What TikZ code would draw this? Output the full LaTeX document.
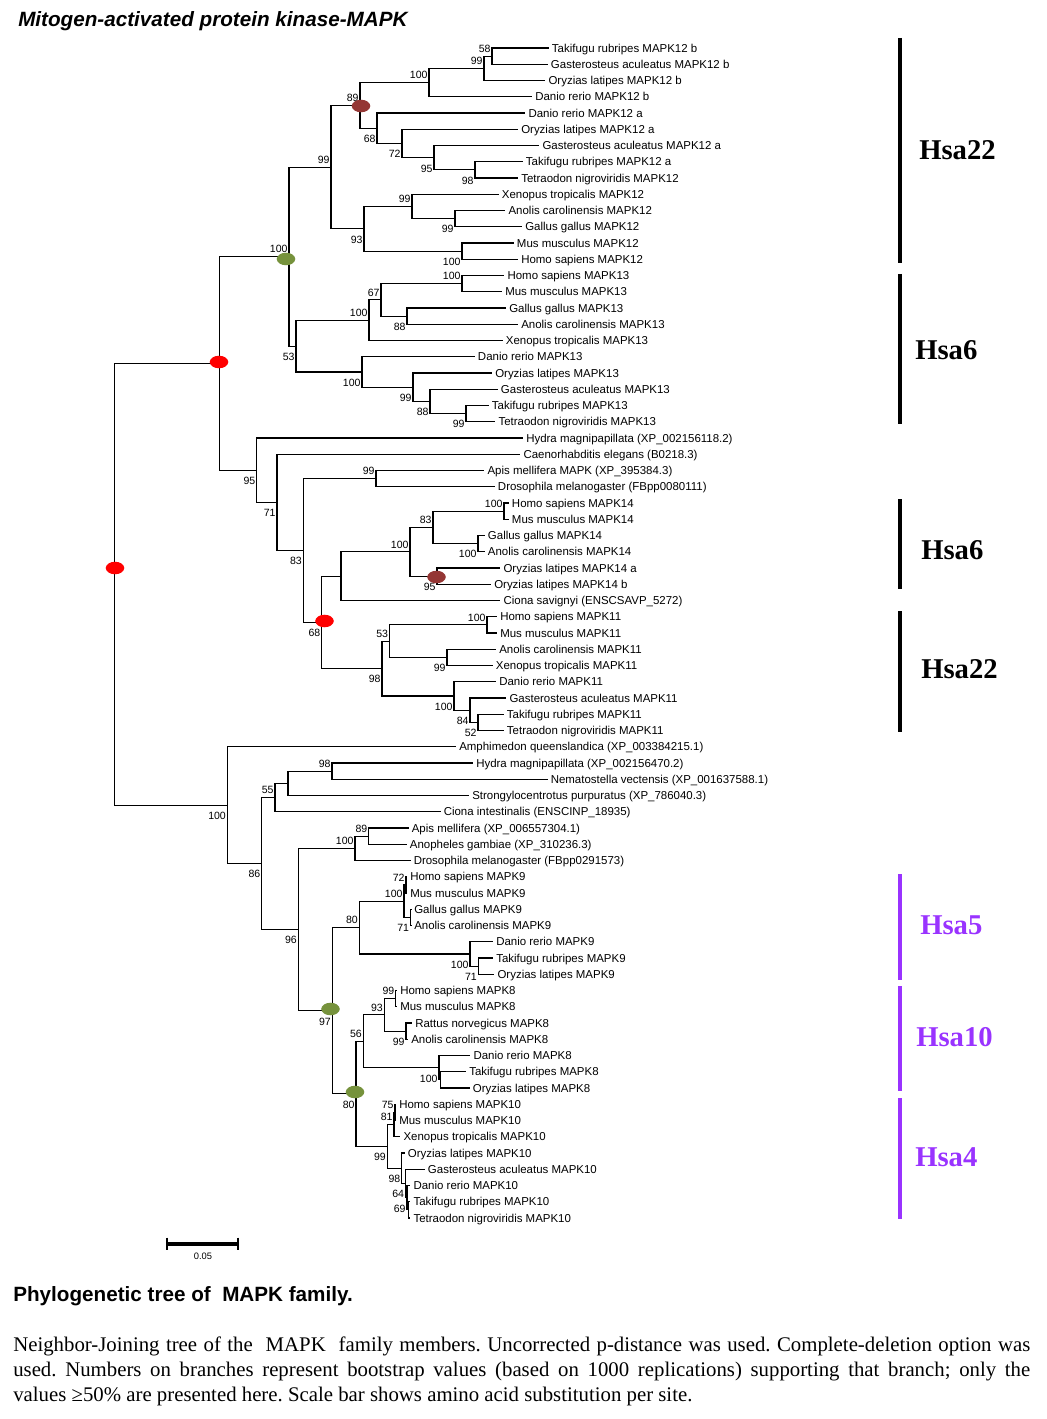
\documentclass[tikz,border=0pt]{standalone}
\usepackage{fontspec}
\setmainfont{Liberation Serif}
\newfontfamily\arial{Liberation Sans}
\usetikzlibrary{calc,shapes.geometric}
\definecolor{dred}{RGB}{255,0,0}
\definecolor{dgreen}{HTML}{76923C}
\definecolor{dbrown}{HTML}{943634}
\definecolor{hpurple}{RGB}{153,51,255}
\frenchspacing
\tikzset{
  tree/.style={line width=0.85pt, draw=black},
  leaf/.style={anchor=west, inner xsep=2.25pt, inner ysep=0pt, text height=6.2pt, text depth=0pt, font=\arial\fontsize{8.6}{10}\selectfont},
  bs/.style={anchor=east, inner sep=0pt, text height=5.7pt, text depth=0pt, font=\arial\fontsize{7.9}{9}\selectfont},
  bsup/.style={bs, xshift=-0.9pt, yshift=5.6pt},
  bslo/.style={bs, xshift=-0.9pt, yshift=-7.9pt},
  dotnode/.style={ellipse, minimum width=13.9pt, minimum height=9.4pt, inner sep=0pt, draw=none},
  hbar/.style={line width=3pt},
  hsa/.style={anchor=base west, inner sep=0pt, font=\bfseries\fontsize{21.5}{24}\selectfont}
}
\newcommand\mkleaf[3]{\node[leaf] (L#1) at ({#2-3},{48+(#1-1)*16.25}) {#3};}
\newcommand\tnd[4]{\coordinate (tmp) at ($(#3)!.5!(#4)$);\coordinate (#1) at (#2,0 |- tmp);\draw[tree] (#1) |- (#3);\draw[tree] (#1) |- (#4);}
\newcommand\bsU[2]{\node[bsup] (b#1) at (#1) {#2};}
\newcommand\bsL[2]{\node[bslo] (b#1) at (#1) {#2};}
\begin{document}
\begin{tikzpicture}[x=0.75pt,y=-0.75pt]
\useasboundingbox (0,0) rectangle (1046,1419);
% title
\node[anchor=base west, inner sep=0pt, font=\arial\bfseries\itshape\fontsize{15.5}{18}\selectfont] (title) at (18,27) {Mitogen-activated protein kinase-MAPK};
% leaves
\mkleaf{1}{551.7}{Takifugu rubripes MAPK12 b}
\mkleaf{2}{550.7}{Gasterosteus aculeatus MAPK12 b}
\mkleaf{3}{548.3}{Oryzias latipes MAPK12 b}
\mkleaf{4}{535}{Danio rerio MAPK12 b}
\mkleaf{5}{528.3}{Danio rerio MAPK12 a}
\mkleaf{6}{521}{Oryzias latipes MAPK12 a}
\mkleaf{7}{542.3}{Gasterosteus aculeatus MAPK12 a}
\mkleaf{8}{525.7}{Takifugu rubripes MAPK12 a}
\mkleaf{9}{521}{Tetraodon nigroviridis MAPK12}
\mkleaf{10}{501.7}{Xenopus tropicalis MAPK12}
\mkleaf{11}{508.3}{Anolis carolinensis MAPK12}
\mkleaf{12}{525}{Gallus gallus MAPK12}
\mkleaf{13}{516.7}{Mus musculus MAPK12}
\mkleaf{14}{521}{Homo sapiens MAPK12}
\mkleaf{15}{507.3}{Homo sapiens MAPK13}
\mkleaf{16}{505}{Mus musculus MAPK13}
\mkleaf{17}{509}{Gallus gallus MAPK13}
\mkleaf{18}{521}{Anolis carolinensis MAPK13}
\mkleaf{19}{505.7}{Xenopus tropicalis MAPK13}
\mkleaf{20}{477.7}{Danio rerio MAPK13}
\mkleaf{21}{495}{Oryzias latipes MAPK13}
\mkleaf{22}{500.7}{Gasterosteus aculeatus MAPK13}
\mkleaf{23}{491.7}{Takifugu rubripes MAPK13}
\mkleaf{24}{498.3}{Tetraodon nigroviridis MAPK13}
\mkleaf{25}{526}{Hydra magnipapillata (XP\_002156118.2)}
\mkleaf{26}{523.3}{Caenorhabditis elegans (B0218.3)}
\mkleaf{27}{487.3}{Apis mellifera MAPK (XP\_395384.3)}
\mkleaf{28}{497.7}{Drosophila melanogaster (FBpp0080111)}
\mkleaf{29}{511.7}{Homo sapiens MAPK14}
\mkleaf{30}{511.7}{Mus musculus MAPK14}
\mkleaf{31}{487.7}{Gallus gallus MAPK14}
\mkleaf{32}{487.7}{Anolis carolinensis MAPK14}
\mkleaf{33}{503.3}{Oryzias latipes MAPK14 a}
\mkleaf{34}{494}{Oryzias latipes MAPK14 b}
\mkleaf{35}{503.3}{Ciona savignyi (ENSCSAVP\_5272)}
\mkleaf{36}{500}{Homo sapiens MAPK11}
\mkleaf{37}{500}{Mus musculus MAPK11}
\mkleaf{38}{499}{Anolis carolinensis MAPK11}
\mkleaf{39}{495.7}{Xenopus tropicalis MAPK11}
\mkleaf{40}{499}{Danio rerio MAPK11}
\mkleaf{41}{509.3}{Gasterosteus aculeatus MAPK11}
\mkleaf{42}{506.7}{Takifugu rubripes MAPK11}
\mkleaf{43}{506.7}{Tetraodon nigroviridis MAPK11}
\mkleaf{44}{459}{Amphimedon queenslandica (XP\_003384215.1)}
\mkleaf{45}{476}{Hydra magnipapillata (XP\_002156470.2)}
\mkleaf{46}{550.5}{Nematostella vectensis (XP\_001637588.1)}
\mkleaf{47}{472}{Strongylocentrotus purpuratus (XP\_786040.3)}
\mkleaf{48}{443.5}{Ciona intestinalis (ENSCINP\_18935)}
\mkleaf{49}{411.5}{Apis mellifera (XP\_006557304.1)}
\mkleaf{50}{409.6}{Anopheles gambiae (XP\_310236.3)}
\mkleaf{51}{413.5}{Drosophila melanogaster (FBpp0291573)}
\mkleaf{52}{410}{Homo sapiens MAPK9}
\mkleaf{53}{410}{Mus musculus MAPK9}
\mkleaf{54}{414}{Gallus gallus MAPK9}
\mkleaf{55}{414}{Anolis carolinensis MAPK9}
\mkleaf{56}{496}{Danio rerio MAPK9}
\mkleaf{57}{496}{Takifugu rubripes MAPK9}
\mkleaf{58}{497.3}{Oryzias latipes MAPK9}
\mkleaf{59}{400}{Homo sapiens MAPK8}
\mkleaf{60}{400}{Mus musculus MAPK8}
\mkleaf{61}{415}{Rattus norvegicus MAPK8}
\mkleaf{62}{411}{Anolis carolinensis MAPK8}
\mkleaf{63}{473.3}{Danio rerio MAPK8}
\mkleaf{64}{469}{Takifugu rubripes MAPK8}
\mkleaf{65}{472.7}{Oryzias latipes MAPK8}
\mkleaf{66}{399}{Homo sapiens MAPK10}
\mkleaf{67}{399}{Mus musculus MAPK10}
\mkleaf{68}{403.3}{Xenopus tropicalis MAPK10}
\mkleaf{69}{407.7}{Oryzias latipes MAPK10}
\mkleaf{70}{427.7}{Gasterosteus aculeatus MAPK10}
\mkleaf{71}{413.3}{Danio rerio MAPK10}
\mkleaf{72}{413.3}{Takifugu rubripes MAPK10}
\mkleaf{73}{413.3}{Tetraodon nigroviridis MAPK10}
% MAPK12
\tnd{n58}{492}{L1.west}{L2.west}
\tnd{n99a}{484}{n58}{L3.west}
\tnd{n100a}{429}{n99a}{L4.west}
\tnd{n98a}{475}{L8.west}{L9.west}
\tnd{n95a}{434}{L7.west}{n98a}
\tnd{n72a}{402}{L6.west}{n95a}
\tnd{n68a}{377}{L5.west}{n72a}
\tnd{n89a}{360}{n100a}{n68a}
\tnd{n99c}{455}{L11.west}{L12.west}
\tnd{n99b}{412}{L10.west}{n99c}
\tnd{n100b}{462}{L13.west}{L14.west}
\tnd{n93a}{364}{n99b}{n100b}
\tnd{n99d}{331}{n89a}{n93a}
% MAPK13
\tnd{n100c}{462}{L15.west}{L16.west}
\tnd{n88a}{407}{L17.west}{L18.west}
\tnd{n67}{381}{n100c}{n88a}
\tnd{n100d}{369}{n67}{L19.west}
\tnd{n99f}{466}{L23.west}{L24.west}
\tnd{n88b}{430}{L22.west}{n99f}
\tnd{n99e}{413}{L21.west}{n88b}
\tnd{n100e}{362}{L20.west}{n99e}
\tnd{n53a}{296}{n100d}{n100e}
\tnd{nG1}{289}{n99d}{n53a}
% MAPK14 / MAPK11 and others
\tnd{n99g}{376}{L27.west}{L28.west}
\tnd{n100h}{504}{L29.west}{L30.west}
\tnd{n100i}{478}{L31.west}{L32.west}
\tnd{n83b}{433}{n100h}{n100i}
\tnd{n95b}{437}{L33.west}{L34.west}
\tnd{n100j}{410}{n83b}{n95b}
\tnd{n100g}{341}{n100j}{L35.west}
\tnd{n100k}{487}{L36.west}{L37.west}
\tnd{n99h}{447}{L38.west}{L39.west}
\tnd{n53b}{389.5}{n100k}{n99h}
\tnd{n52}{478}{L42.west}{L43.west}
\tnd{n84}{470}{L41.west}{n52}
\tnd{n100l}{454}{L40.west}{n84}
\tnd{n98b}{382}{n53b}{n100l}
\tnd{n68r}{321.7}{n100g}{n98b}
\tnd{n83a}{303.3}{n99g}{n68r}
\tnd{n71a}{277}{L26.west}{n83a}
\tnd{n95c}{256.7}{L25.west}{n71a}
\tnd{nR1}{219.3}{nG1}{n95c}
% lower clade
\tnd{n98c}{332}{L45.west}{L46.west}
\tnd{nX}{288}{n98c}{L47.west}
\tnd{n55}{275}{nX}{L48.west}
\tnd{n89b}{368.7}{L49.west}{L50.west}
\tnd{n100n}{355}{n89b}{L51.west}
\tnd{n72b}{406}{L52.west}{L53.west}
\tnd{n71b}{410.5}{L54.west}{L55.west}
\tnd{n100o}{404}{n72b}{n71b}
\tnd{n71c}{478.3}{L57.west}{L58.west}
\tnd{n100p}{470}{L56.west}{n71c}
\tnd{n80a}{359.3}{n100o}{n100p}
\tnd{n99i}{395.7}{L59.west}{L60.west}
\tnd{n99j}{406}{L61.west}{L62.west}
\tnd{n93b}{384.3}{n99i}{n99j}
\tnd{nTO}{440.5}{L64.west}{L65.west}
\tnd{n100q}{439}{L63.west}{nTO}
\tnd{n56}{363.3}{n93b}{n100q}
\tnd{n75}{395}{L66.west}{L67.west}
\tnd{n81}{394}{n75}{L68.west}
\tnd{nE}{408.5}{L72.west}{L73.west}
\tnd{nD}{407}{L71.west}{nE}
\tnd{nC}{405.5}{L70.west}{nD}
\tnd{n98d}{401.7}{L69.west}{nC}
\tnd{n99k}{387.3}{n81}{n98d}
\tnd{nG3}{356}{n56}{n99k}
\tnd{nG2}{332.3}{n80a}{nG3}
\tnd{nY}{298.3}{n100n}{nG2}
\tnd{n86}{261.7}{n55}{nY}
\tnd{n100m}{227.3}{L44.west}{n86}
\tnd{root}{114.5}{nR1}{n100m}
% bootstrap values
\bsU{n58}{58} \bsU{n99a}{99} \bsU{n100a}{100} \bsL{n98a}{98} \bsL{n95a}{95}
\bsL{n72a}{72} \bsL{n68a}{68} \bsU{n89a}{89} \bsL{n99c}{99} \bsU{n99b}{99}
\bsL{n100b}{100} \bsL{n93a}{93} \bsU{n99d}{99}
\bsU{n100c}{100} \bsL{n88a}{88} \bsU{n67}{67} \bsU{n100d}{100} \bsL{n99f}{99}
\bsL{n88b}{88} \bsL{n99e}{99} \bsL{n100e}{100} \bsL{n53a}{53} \bsU{nG1}{100}
\bsU{n99g}{99} \bsU{n100h}{100} \bsL{n100i}{100} \bsU{n83b}{83} \bsL{n95b}{95}
\bsU{n100j}{100} \bsU{n100k}{100} \bsL{n99h}{99} \bsU{n53b}{53} \bsL{n52}{52}
\bsL{n84}{84} \bsL{n100l}{100} \bsL{n98b}{98} \bsL{n68r}{68} \bsL{n83a}{83}
\bsL{n71a}{71} \bsL{n95c}{95}
\bsU{n98c}{98} \bsU{n55}{55} \bsU{n89b}{89} \bsU{n100n}{100} \bsU{n72b}{72}
\bsL{n71b}{71} \bsU{n100o}{100} \bsL{n71c}{71} \bsL{n100p}{100} \bsU{n80a}{80}
\bsU{n99i}{99} \bsL{n99j}{99} \bsU{n93b}{93} \bsL{n100q}{100} \bsU{n56}{56}
\bsU{n75}{75} \bsU{n81}{81} \bsL{nD}{69} \bsL{nC}{64} \bsL{n98d}{98}
\bsL{n99k}{99} \bsL{nG3}{80} \bsL{nG2}{97} \bsL{nY}{96} \bsL{n86}{86}
\bsL{n100m}{100}
% coloured node marks
\node[dotnode,fill=dbrown] (d1) at (361,106) {};
\node[dotnode,fill=dgreen] (d2) at (286,259) {};
\node[dotnode,fill=dred] (d3) at (219,362) {};
\node[dotnode,fill=dred] (d4) at (115,568) {};
\node[dotnode,fill=dbrown] (d5) at (436.5,577) {};
\node[dotnode,fill=dred] (d6) at (324.5,621) {};
\node[dotnode,fill=dgreen] (d7) at (330.5,1009) {};
\node[dotnode,fill=dgreen] (d8) at (355,1092) {};
% chromosome bars
\draw[hbar] (900,38) -- (900,263);
\draw[hbar] (900,274) -- (900,424);
\draw[hbar] (900,499) -- (900,589);
\draw[hbar] (900,611) -- (900,732);
\draw[hbar,hpurple] (900,874) -- (900,980);
\draw[hbar,hpurple] (900,986) -- (900,1091);
\draw[hbar,hpurple] (900,1098) -- (900,1219);
\node[hsa] (h1) at (919,159.5) {Hsa22};
\node[hsa] (h2) at (915,359.5) {Hsa6};
\node[hsa] (h3) at (921,559.5) {Hsa6};
\node[hsa] (h4) at (921,678.5) {Hsa22};
\node[hsa,text=hpurple] (h5) at (920,934.5) {Hsa5};
\node[hsa,text=hpurple] (h6) at (916,1046.5) {Hsa10};
\node[hsa,text=hpurple] (h7) at (915,1166.5) {Hsa4};
% scale bar
\coordinate (sb1) at (167,1244);
\coordinate (sb2) at (238,1244);
\draw[line width=2.4pt] (sb1) -- (sb2);
\draw[line width=2pt] ([yshift=4.7pt]sb1) -- ([yshift=-4.7pt]sb1);
\draw[line width=2pt] ([yshift=4.7pt]sb2) -- ([yshift=-4.7pt]sb2);
\node[inner sep=0pt, font=\arial\fontsize{7}{8}\selectfont] (sbl) at (203,1256) {0.05};
% caption
\node[anchor=base west, inner sep=0pt, font=\arial\bfseries\fontsize{15.5}{18}\selectfont] (cap) at (13,1301) {Phylogenetic tree of\ \ MAPK family.};
\node[anchor=base west, inner sep=0pt, font=\fontsize{15.6}{18.75}\selectfont] (p1) at (13,1351) {\hbox to 762.75pt{Neighbor-Joining tree of the \ MAPK \ family members. Uncorrected p-distance was used. Complete-deletion option was}};
\node[anchor=base west, inner sep=0pt, font=\fontsize{15.6}{18.75}\selectfont] (p2) at (13,1376) {\hbox to 762.75pt{used. Numbers on branches represent bootstrap values (based on 1000 replications) supporting that branch; only the}};
\node[anchor=base west, inner sep=0pt, font=\fontsize{15.6}{18.75}\selectfont] (p3) at (13,1401) {values ≥50\% are presented here. Scale bar shows amino acid substitution per site.};
\end{tikzpicture}
\end{document}
